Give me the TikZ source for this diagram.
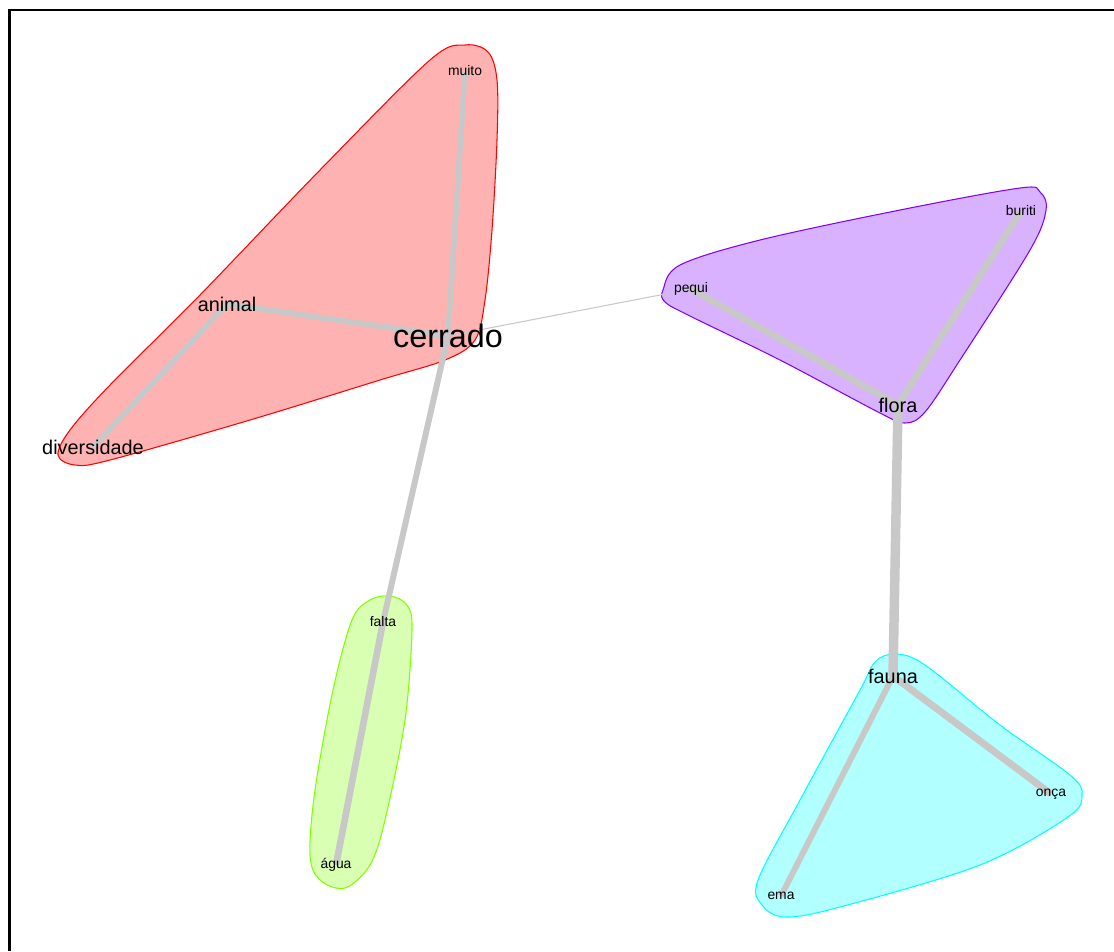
\documentclass[tikz,border=0pt]{standalone}
\usepackage{fontspec}
\setmainfont{Liberation Sans}
\usepackage{tikz}
\usetikzlibrary{backgrounds}
\definecolor{edgegray}{HTML}{C8C8C8}
\definecolor{redline}{HTML}{FF0000}
\definecolor{redfill}{HTML}{FFB2B2}
\definecolor{purpleline}{HTML}{8000FF}
\definecolor{purplefill}{HTML}{D9B2FF}
\definecolor{cyanline}{HTML}{00FFFF}
\definecolor{cyanfill}{HTML}{B2FFFF}
\definecolor{greenline}{HTML}{80FF00}
\definecolor{greenfill}{HTML}{D9FFB2}

\begin{document}
\begin{tikzpicture}[
  x=0.02cm, y=-0.02cm,
  word/.style={inner sep=0pt, text=black},
  bigword/.style={word, font=\fontsize{18.4}{20}\selectfont},
  midword/.style={word, font=\fontsize{11.3}{13}\selectfont},
  smallword/.style={word, font=\fontsize{7.9}{9}\selectfont},
  tie/.style={draw=edgegray, line cap=butt},
  hull/.style={line width=0.6pt}
]
\useasboundingbox (0,0) rectangle (1114,951);
\draw[line width=1.7pt] (9.5,951) -- (9.5,10) -- (1114,10);

\node[smallword] (muito)       at (465,71)  {muito};
\node[bigword]   (cerrado)     at (448,336) {cerrado};
\node[midword]   (animal)      at (227,304) {animal};
\node[midword]   (diversidade) at (93,447)  {diversidade};
\node[smallword] (falta)       at (383,622) {falta};
\node[smallword] (agua)        at (336,865) {água};
\node[smallword] (pequi)       at (691,289) {pequi};
\node[smallword] (buriti)      at (1021,211) {buriti};
\node[midword]   (flora)       at (898,405) {flora};
\node[midword]   (fauna)       at (893,676) {fauna};
\node[smallword] (onca)        at (1051,794) {onça};
\node[smallword] (ema)         at (781,896) {ema};

\begin{scope}[on background layer]
\filldraw[hull, draw=redline, fill=redfill] plot[smooth cycle, tension=0.55] coordinates {
  (465,45) (488,52) (497,80) (497,140) (492,230) (485,300) (475,340) (445,360)
  (380,380) (250,420) (110,460) (75,465) (58,455) (70,430) (110,385) (200,295)
  (320,170) (430,60)};
\filldraw[hull, draw=purpleline, fill=purplefill] plot[smooth cycle, tension=0.55] coordinates {
  (663,290) (680,265) (760,240) (900,210) (1020,188) (1040,192) (1046,210)
  (1030,250) (960,360) (925,412) (905,423) (880,413) (780,360) (690,316) (665,302)};
\filldraw[hull, draw=cyanline, fill=cyanfill] plot[smooth cycle, tension=0.55] coordinates {
  (895,654) (925,665) (1000,725) (1070,775) (1082,795) (1068,817) (980,865)
  (840,907) (785,917) (762,905) (758,880) (800,800) (860,690) (875,662)};
\filldraw[hull, draw=greenline, fill=greenfill] plot[smooth cycle, tension=0.55] coordinates {
  (390,596) (407,605) (412,630) (405,720) (385,820) (370,865) (345,888)
  (320,880) (310,855) (315,790) (333,690) (352,620) (370,600)};

\draw[tie, line width=3.2pt] (muito.center) -- (cerrado.center);
\draw[tie, line width=3.4pt] (animal.center) -- (cerrado.center);
\draw[tie, line width=3.4pt] (animal.center) -- (diversidade.center);
\draw[tie, line width=3.4pt] (cerrado.center) -- (falta.center);
\draw[tie, line width=3.8pt] (falta.center) -- (agua.center);
\draw[tie, line width=0.6pt] (cerrado.center) -- (pequi.center);
\draw[tie, line width=4pt] (pequi.center) -- (flora.center);
\draw[tie, line width=4pt] (buriti.center) -- (flora.center);
\draw[tie, line width=5.4pt] (flora.center) -- (fauna.center);
\draw[tie, line width=4pt] (fauna.center) -- (onca.center);
\draw[tie, line width=3.4pt] (fauna.center) -- (ema.center);
\end{scope}
\end{tikzpicture}
\end{document}
